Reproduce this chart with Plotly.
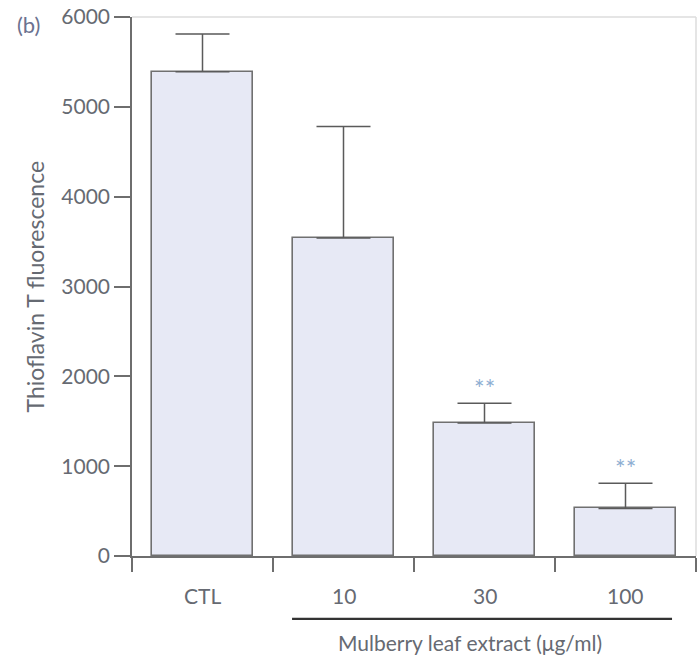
import plotly.graph_objects as go

# Thioflavin T fluorescence per treatment group
categories = ["CTL", "10", "30", "100"]
fluorescence = [5390, 3540, 1480, 530]
sem_upper = [420, 1240, 220, 280]
significance = ["", "", "**", "**"]
y_ticks = [0, 1000, 2000, 3000, 4000, 5000, 6000]

FONT = "Lato"
TEXT_COLOR = "#666a72"
AXIS_COLOR = "#6e6e6e"

positions = list(range(len(categories)))

fig = go.Figure()
fig.add_trace(go.Bar(
    x=positions,
    y=fluorescence,
    width=0.72,
    marker=dict(color="#e7e9f5", line=dict(color="#707070", width=1.6)),
    error_y=dict(
        type="data",
        symmetric=False,
        array=sem_upper,
        arrayminus=[0] * len(sem_upper),
        color="#5a5a5a",
        thickness=1.5,
        width=27,
    ),
    showlegend=False,
    hoverinfo="skip",
))

annotations = []
# category labels under the axis
for pos, cat in zip(positions, categories):
    annotations.append(dict(
        x=pos, y=-0.074, xref="x", yref="paper", text=cat, showarrow=False,
        font=dict(family=FONT, size=21, color=TEXT_COLOR),
        xanchor="center", yanchor="middle",
    ))
# significance markers above the error bars
for pos, val, err, sig in zip(positions, fluorescence, sem_upper, significance):
    if sig:
        annotations.append(dict(
            x=pos, y=val + err, xref="x", yref="y", text=sig, showarrow=False,
            font=dict(family=FONT, size=25, color="#8eaed2"),
            xanchor="center", yanchor="bottom", yshift=-2,
        ))
annotations += [
    dict(x=-0.172, y=0.5, xref="paper", yref="paper",
         text="Thioflavin T fluorescence", textangle=-90, showarrow=False,
         font=dict(family=FONT, size=23, color=TEXT_COLOR),
         xanchor="center", yanchor="middle"),
    dict(x=-0.207, y=0.986, xref="paper", yref="paper", text="(b)",
         showarrow=False, font=dict(family=FONT, size=22, color="#6b7290"),
         xanchor="left", yanchor="middle"),
    dict(x=1.9, y=-0.161, xref="x", yref="paper",
         text="Mulberry leaf extract (μg/ml)", showarrow=False,
         font=dict(family=FONT, size=21, color=TEXT_COLOR),
         xanchor="center", yanchor="middle"),
]

shapes = [
    # light frame on top and right
    dict(type="line", xref="paper", yref="paper", x0=0, x1=1, y0=1, y1=1,
         line=dict(color="#dcdcdc", width=1.5)),
    dict(type="line", xref="paper", yref="paper", x0=1, x1=1, y0=0, y1=1,
         line=dict(color="#dcdcdc", width=1.5)),
    # bracket line under the extract doses
    dict(type="line", xref="x", yref="paper", x0=0.635, x1=3.33,
         y0=-0.1165, y1=-0.1165, line=dict(color="#333333", width=2.2)),
]

fig.update_layout(
    width=699, height=657,
    margin=dict(l=132, r=3, t=15, b=101),
    paper_bgcolor="white", plot_bgcolor="white",
    font=dict(family=FONT, color=TEXT_COLOR),
    annotations=annotations,
    shapes=shapes,
    bargap=0,
)
fig.update_xaxes(
    range=[-0.5, 3.5],
    tickmode="array",
    tickvals=[-0.5, 0.5, 1.5, 2.5, 3.5],
    ticktext=["", "", "", "", ""],
    ticks="outside", ticklen=14, tickwidth=1.5, tickcolor=AXIS_COLOR,
    showline=True, linecolor=AXIS_COLOR, linewidth=1.5,
    showgrid=False, zeroline=False,
)
fig.update_yaxes(
    range=[0, 6000],
    tickmode="array",
    tickvals=y_ticks,
    ticktext=[str(v) for v in y_ticks],
    ticks="outside", ticklen=16, tickwidth=1.5, tickcolor=AXIS_COLOR,
    tickfont=dict(family=FONT, size=21, color=TEXT_COLOR),
    showline=True, linecolor=AXIS_COLOR, linewidth=1.5,
    showgrid=False, zeroline=False,
)

fig.write_html("out.html")
